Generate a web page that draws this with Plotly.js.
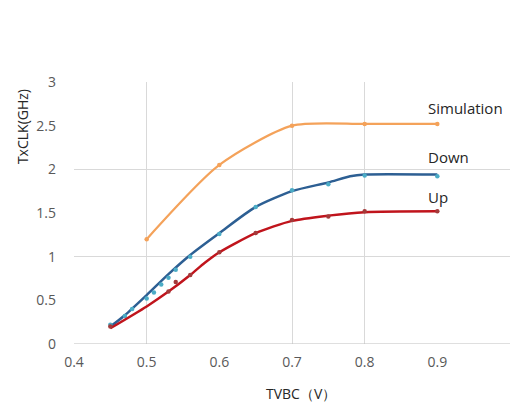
<!DOCTYPE html>
<html>
<head>
<meta charset="utf-8">
<script src="https://cdn.plot.ly/plotly-3.0.1.min.js"></script>
<style>html,body{margin:0;padding:0;background:#fff;}#chart{width:514px;height:403px;}</style>
</head>
<body>
<div id="chart"></div>
<script>
// Simulation series
const simX = [0.5, 0.6, 0.7, 0.8, 0.9];
const simY = [1.2, 2.05, 2.5, 2.52, 2.52];
// Down series: smoothed line and measured points
const downLineX = [0.45, 0.47, 0.5, 0.53, 0.56, 0.6, 0.65, 0.7, 0.75, 0.78, 0.8, 0.9];
const downLineY = [0.2, 0.33, 0.56, 0.8, 1.02, 1.27, 1.57, 1.75, 1.85, 1.92, 1.94, 1.94];
const downPtX = [0.45, 0.47, 0.48, 0.5, 0.51, 0.52, 0.53, 0.54, 0.56, 0.6, 0.65, 0.7, 0.75, 0.8, 0.9];
const downPtY = [0.22, 0.32, 0.4, 0.52, 0.59, 0.68, 0.76, 0.85, 1.0, 1.26, 1.57, 1.76, 1.83, 1.93, 1.92];
// Up series: smoothed line and measured points
const upLineX = [0.45, 0.5, 0.53, 0.56, 0.58, 0.6, 0.65, 0.7, 0.75, 0.8, 0.9];
const upLineY = [0.18, 0.43, 0.6, 0.79, 0.93, 1.05, 1.27, 1.41, 1.47, 1.51, 1.52];
const upPtX = [0.45, 0.53, 0.54, 0.56, 0.6, 0.65, 0.7, 0.75, 0.8, 0.9];
const upPtY = [0.2, 0.6, 0.71, 0.79, 1.05, 1.27, 1.42, 1.46, 1.52, 1.52];
// Axis ticks and gridlines
const xTicks = [0.4, 0.5, 0.6, 0.7, 0.8, 0.9, 1];
const xTickText = ['0.4', '0.5', '0.6', '0.7', '0.8', '0.9', '1'];
const yTicks = [0, 0.5, 1, 1.5, 2, 2.5, 3];
const yTickText = ['0', '0.5', '1', '1.5', '2', '2.5', '3'];
const xGrid = [0.4, 0.5, 0.7, 0.8, 1];
const yGrid = [1, 2, 3];
// Series labels
const seriesNames = ['Simulation', 'Down', 'Up'];
const labelX = [0.884, 0.884, 0.884];
const labelY = [2.70, 2.14, 1.68];

const FONT = 'Open Sans, Liberation Sans, sans-serif';
const cSim = '#F4A25A', cDownLine = '#2D5F93', cDownPt = '#4BACC6', cUpLine = '#C0141C', cUpPt = '#A33A3A';

const traces = [
  {x: xGrid, y: xGrid.map(() => null), xaxis: 'x2', yaxis: 'y2', mode: 'lines', showlegend: false, hoverinfo: 'skip'},
  {x: simX, y: simY, mode: 'lines+markers', line: {color: cSim, width: 2.2, shape: 'spline', smoothing: 0.7}, marker: {color: cSim, size: 4.5}},
  {x: downLineX, y: downLineY, mode: 'lines', line: {color: cDownLine, width: 2.5, shape: 'spline', smoothing: 0.7}},
  {x: downPtX, y: downPtY, mode: 'markers', marker: {color: cDownPt, size: 4.5}},
  {x: upLineX, y: upLineY, mode: 'lines', line: {color: cUpLine, width: 2.5, shape: 'spline', smoothing: 0.7}},
  {x: upPtX, y: upPtY, mode: 'markers', marker: {color: cUpPt, size: 4.5}}
];

const annotations = seriesNames.map((t, i) => ({
  text: t, x: labelX[i], y: labelY[i], xref: 'x', yref: 'y', xanchor: 'left', yanchor: 'middle',
  showarrow: false, font: {family: FONT, size: 15, color: '#262626'}
}));
annotations.push({text: 'TxCLK(GHz)', textangle: -90, xref: 'paper', yref: 'paper', x: -0.118, y: 0.83,
  xanchor: 'center', yanchor: 'middle', showarrow: false, font: {family: FONT, size: 14, color: '#262626'}});
annotations.push({text: 'TVBC（V）', xref: 'paper', yref: 'paper', x: 0.52, y: -0.232,
  xanchor: 'center', yanchor: 'bottom', showarrow: false, font: {family: FONT, size: 14, color: '#262626'}});

const layout = {
  width: 514, height: 403,
  margin: {l: 73.5, r: 4.4, t: 81.7, b: 59},
  paper_bgcolor: '#fff', plot_bgcolor: '#fff',
  showlegend: false,
  font: {family: FONT, color: '#595959', size: 14},
  xaxis: {range: [0.4, 1], tickvals: xTicks, ticktext: xTickText, showgrid: false, zeroline: false,
    showline: false, ticks: '', ticklabelstandoff: 8, tickfont: {size: 14, color: '#595959'}},
  yaxis: {range: [0, 3], tickvals: yTicks, ticktext: yTickText, showgrid: false, zeroline: false,
    showline: false, ticks: '', ticklabelstandoff: 17, tickfont: {size: 14, color: '#595959'}},
  xaxis2: {overlaying: 'x', range: [0.4, 1], tickvals: xGrid, showticklabels: false, showgrid: true,
    gridcolor: '#d9d9d9', gridwidth: 1, zeroline: false, ticks: ''},
  yaxis2: {overlaying: 'y', range: [0, 3], tickvals: yGrid, showticklabels: false, showgrid: true,
    gridcolor: '#d9d9d9', gridwidth: 1, zeroline: false, ticks: ''},
  shapes: [{type: 'line', xref: 'paper', yref: 'y', x0: 0, x1: 1, y0: 0, y1: 0, line: {color: '#bfbfbf', width: 1}}],
  annotations: annotations
};

Plotly.newPlot('chart', traces, layout, {displayModeBar: false, staticPlot: true});
</script>
</body>
</html>
